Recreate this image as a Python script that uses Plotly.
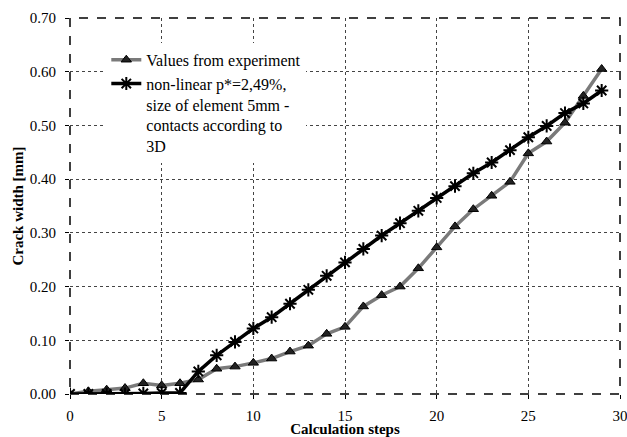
import plotly.graph_objects as go

steps = list(range(0, 30))
experiment = [0.0, 0.005, 0.008, 0.011, 0.020, 0.016, 0.020, 0.027, 0.047, 0.051,
              0.058, 0.066, 0.079, 0.090, 0.112, 0.125, 0.163, 0.184, 0.200, 0.234,
              0.273, 0.312, 0.344, 0.369, 0.395, 0.448, 0.470, 0.505, 0.555, 0.605]
model = [0.0, 0.0, 0.0, 0.0, 0.001, 0.002, 0.002, 0.042, 0.072, 0.097,
         0.122, 0.143, 0.168, 0.194, 0.220, 0.245, 0.270, 0.295, 0.318, 0.341,
         0.365, 0.387, 0.411, 0.431, 0.454, 0.478, 0.499, 0.523, 0.541, 0.565]

name_exp = "Values from experiment"
name_model = "non-linear p*=2,49%,<br>size of element 5mm -<br>contacts according to<br>3D"

FONT = "'Liberation Serif', 'Times New Roman', Times, serif"

fig = go.Figure()
fig.add_trace(go.Scatter(
    x=steps, y=experiment, name=name_exp, mode="lines+markers",
    line=dict(color="#7a7a7a", width=3.5),
    marker=dict(symbol="triangle-up", size=9, color="#222222",
                line=dict(color="#000000", width=1)),
))
fig.add_trace(go.Scatter(
    x=steps, y=model, name=name_model, mode="lines+markers",
    line=dict(color="#000000", width=3.5),
    marker=dict(symbol="asterisk-open", size=11, color="#000000",
                line=dict(color="#000000", width=2)),
))

fig.update_layout(
    width=627, height=437,
    margin=dict(l=70, r=7, t=18, b=43),
    paper_bgcolor="white", plot_bgcolor="white",
    font=dict(family=FONT, size=15, color="black"),
    showlegend=True,
    legend=dict(x=0.066, y=0.934, xanchor="left", yanchor="top",
                bgcolor="white", borderwidth=0, valign="top",
                font=dict(family=FONT, size=16, color="black"),
                itemwidth=30, tracegroupgap=0),
    xaxis=dict(range=[0, 30], tickvals=[0, 5, 10, 15, 20, 25, 30],
               automargin=False, ticklabeloverflow="allow",
               showgrid=True, gridcolor="#444444", griddash="dot", gridwidth=1,
               zeroline=False, showline=False,
               ticks="outside", ticklen=4, tickcolor="black", ticklabelstandoff=4,
               title=dict(text="<b>Calculation steps</b>", standoff=4,
                          font=dict(family=FONT, size=15)),
               tickfont=dict(family=FONT, size=15)),
    yaxis=dict(range=[0, 0.70], dtick=0.1, tickformat=".2f",
               automargin=False, ticklabeloverflow="allow",
               showgrid=True, gridcolor="#444444", griddash="dot", gridwidth=1,
               zeroline=False, showline=False,
               ticks="outside", ticklen=4, tickcolor="black", ticklabelstandoff=6,
               title=dict(text="<b>Crack width [mm]</b>", standoff=2,
                          font=dict(family=FONT, size=15)),
               tickfont=dict(family=FONT, size=15)),
    shapes=[dict(type="rect", xref="paper", yref="paper", x0=0, y0=0, x1=1, y1=1,
                 line=dict(color="black", width=1.5, dash="dash"), layer="above")],
)

fig.write_html("out.html", config={"displayModeBar": False},
               post_script="document.body.style.margin='0';")
